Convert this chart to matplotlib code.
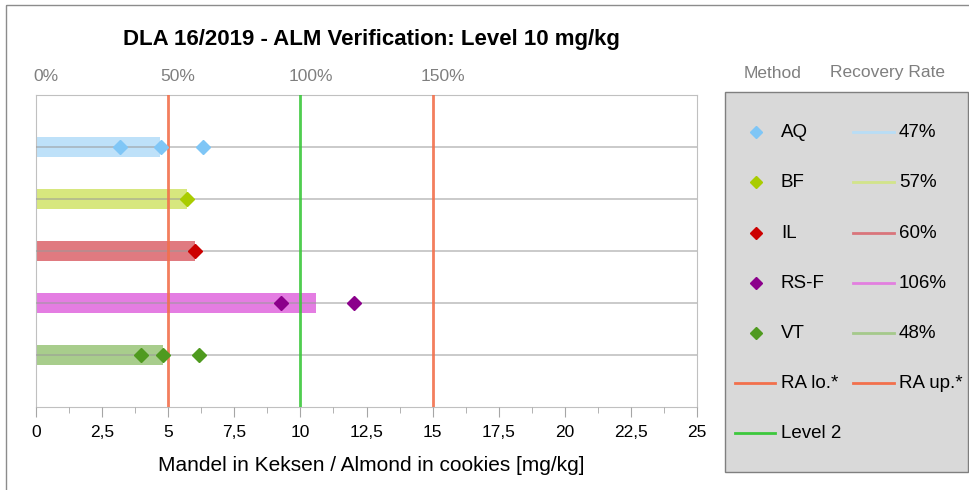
import matplotlib.pyplot as plt
from matplotlib.patches import Rectangle
from matplotlib.lines import Line2D
from matplotlib.transforms import ScaledTranslation
from matplotlib.ticker import MultipleLocator, FuncFormatter

plt.rcParams['font.family'] = ['Liberation Sans', 'DejaVu Sans']

# Data
methods = ['AQ', 'BF', 'IL', 'RS-F', 'VT']
results = [
    [3.17, 4.73, 6.33],   # AQ
    [5.72],               # BF
    [6.01],               # IL
    [9.27, 12.03],        # RS-F
    [3.96, 4.82, 6.15],   # VT
]
recovery = [47, 57, 60, 106, 48]   # percent
level = 10
ra_lo = 5
ra_up = 15
pct_ticks = [0, 50, 100, 150]

marker_colors = ['#7FC6F6', '#A9CC00', '#CC0000', '#8B008B', '#4F9A1F']
bar_colors = ['#BEE1F9', '#D7E77E', '#E07A80', '#E47DE2', '#A8CD8C']
line_colors = ['#B8DDF6', '#D2E48A', '#D9757B', '#E27FDF', '#A5C98B']
ra_color = '#F2704C'
lvl_color = '#3CC83C'
gray_txt = '#7F7F7F'

W, H = 970, 490
fig = plt.figure(figsize=(W / 100, H / 100), dpi=100)

# overlay in pixel coordinates for frame, titles and legend
lay = fig.add_axes([0, 0, 1, 1])
lay.set_xlim(0, W)
lay.set_ylim(H, 0)
lay.axis('off')
lay.add_patch(Rectangle((6, 5), 1000, 600, fill=False, edgecolor='#8C8C8C', lw=1))

ax = fig.add_axes([36 / W, 1 - 407 / H, (697 - 36) / W, (407 - 95) / H])
ax.set_zorder(2)
rows = list(range(1, len(methods) + 1))

for i, m in enumerate(methods):
    y = rows[i]
    ax.barh(y, recovery[i] / 100 * level, height=0.4, color=bar_colors[i], zorder=1)
    ax.plot(results[i], [y] * len(results[i]), linestyle='none', marker='D',
            markersize=7.5, color=marker_colors[i], zorder=5)

ax.axvline(ra_lo, color=ra_color, lw=2, zorder=3, alpha=0.9)
ax.axvline(ra_up, color=ra_color, lw=2, zorder=3, alpha=0.9)
ax.axvline(level, color=lvl_color, lw=2, zorder=3, alpha=0.9)

ax.set_xlim(0, 25)
ax.set_ylim(6, 0)
ax.set_yticks(rows)
ax.set_yticklabels([])
ax.tick_params(axis='y', length=0)
ax.yaxis.grid(True, color='#999999', alpha=0.6, lw=1.2, zorder=2)
ax.set_axisbelow(False)

ax.xaxis.set_major_locator(MultipleLocator(2.5))
ax.xaxis.set_minor_locator(MultipleLocator(1.25))
ax.xaxis.set_major_formatter(FuncFormatter(lambda v, p: ('%g' % v).replace('.', ',')))
ax.tick_params(axis='x', which='major', length=7, color='#A6A6A6', labelsize=12.5, pad=6)
ax.tick_params(axis='x', which='minor', length=4, color='#A6A6A6')
for s in ax.spines.values():
    s.set_color('#C0C0C0')

# top percentage axis
sec = ax.secondary_xaxis('top', functions=(lambda x: x / level * 100, lambda p: p / 100 * level))
sec.set_xticks(pct_ticks)
sec.set_xticklabels(['%d%%' % p for p in pct_ticks])
sec.tick_params(length=0, labelsize=12.5, labelcolor=gray_txt, pad=8)
sec.spines['top'].set_visible(False)
for lab in sec.get_xticklabels():
    lab.set_transform(lab.get_transform() + ScaledTranslation(0.10, 0, fig.dpi_scale_trans))

lay.text(371, 40, 'DLA 16/2019 - ALM Verification: Level 10 mg/kg', fontsize=16,
         fontweight='bold', ha='center', va='center')
lay.text(371, 465, 'Mandel in Keksen / Almond in cookies [mg/kg]', fontsize=15,
         ha='center', va='center')

# legend panel
lay.add_patch(Rectangle((725, 92), 243, 380, facecolor='#D9D9D9', edgecolor='#7F7F7F', lw=1))
lay.text(773, 73, 'Method', ha='center', va='center', fontsize=12.5, color=gray_txt)
lay.text(888, 73, 'Recovery Rate', ha='center', va='center', fontsize=12.5, color=gray_txt)
leg_rows = [132, 182, 233, 283, 333, 383, 433]
fs = 13.5
for i, m in enumerate(methods):
    yy = leg_rows[i]
    lay.plot([756], [yy], marker='D', markersize=6, color=marker_colors[i], linestyle='none')
    lay.text(781, yy, m, va='center', fontsize=fs)
    lay.add_line(Line2D([853, 894], [yy, yy], color=line_colors[i], lw=2))
    lay.text(899, yy, '%d%%' % recovery[i], va='center', fontsize=fs)
yy = leg_rows[5]
lay.add_line(Line2D([735, 775], [yy, yy], color=ra_color, lw=2))
lay.text(781, yy, 'RA lo.*', va='center', fontsize=fs)
lay.add_line(Line2D([853, 894], [yy, yy], color=ra_color, lw=2))
lay.text(899, yy, 'RA up.*', va='center', fontsize=fs)
yy = leg_rows[6]
lay.add_line(Line2D([735, 775], [yy, yy], color=lvl_color, lw=2))
lay.text(781, yy, 'Level 2', va='center', fontsize=fs)

fig.savefig('out.png', dpi=100)
